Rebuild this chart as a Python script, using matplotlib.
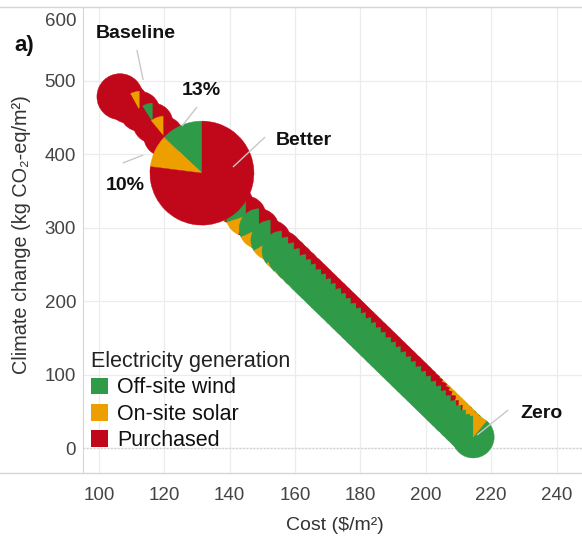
import matplotlib
matplotlib.use("Agg")
import matplotlib.pyplot as plt
from matplotlib.patches import Wedge, Patch
from matplotlib.lines import Line2D
from matplotlib.transforms import ScaledTranslation

plt.rcParams['font.family'] = ['Liberation Sans', 'DejaVu Sans']

# ---------------- data ----------------
categories = ["Off-site wind", "On-site solar", "Purchased"]
colors = ["#2F9A47", "#EE9F00", "#C1081A"]

# chain of scenarios (Baseline ... Zero), drawn in this order
pie_cost = [106.4, 108.9, 112.5, 116.5, 119.8,
            137.0, 141.0, 145.0, 149.0, 152.6, 156.0, 157.9, 159.7, 161.5, 163.4,
            164.9, 166.4, 168.0, 169.5, 171.0, 172.5, 174.1, 175.6, 177.1, 178.7,
            180.2, 181.7, 183.3, 184.8, 186.3, 187.8, 189.4, 190.9, 192.4, 194.0,
            195.5, 197.0, 198.6, 200.1, 201.6, 203.2, 204.7, 206.2, 207.7, 209.3,
            210.8, 212.3, 213.6, 214.5]
pie_climate = [478.0, 469.0, 458.0, 442.0, 424.0,
               350.2, 332.9, 315.6, 298.3, 282.7, 268.0, 259.8, 252.0, 244.2, 236.0,
               229.5, 223.1, 216.1, 209.6, 203.2, 196.7, 189.8, 183.3, 176.8, 169.9,
               163.4, 156.9, 150.0, 143.5, 137.0, 130.5, 123.6, 117.1, 110.6, 103.7,
               97.2, 90.7, 83.8, 77.3, 70.8, 63.9, 57.4, 50.9, 44.4, 37.5,
               31.0, 24.5, 18.9, 15.0]
wind = [0.00, 0.00, 0.00, 0.09, 0.00,
        0.25, 0.28, 0.30, 0.32, 0.34, 0.36, 0.38, 0.40, 0.42, 0.44,
        0.46, 0.48, 0.50, 0.52, 0.54, 0.56, 0.58, 0.60, 0.61, 0.63,
        0.64, 0.66, 0.67, 0.69, 0.70, 0.72, 0.73, 0.74, 0.75, 0.77,
        0.78, 0.79, 0.80, 0.81, 0.82, 0.83, 0.84, 0.85, 0.86, 0.87,
        0.88, 0.89, 0.89, 0.89]
solar = [0.00, 0.00, 0.08, 0.00, 0.11,
         0.14, 0.15, 0.14, 0.12, 0.10, 0.07, 0.06, 0.05, 0.05, 0.04,
         0.04, 0.04, 0.03, 0.03, 0.03, 0.03, 0.03, 0.03, 0.03, 0.03,
         0.03, 0.03, 0.04, 0.04, 0.04, 0.04, 0.04, 0.05, 0.05, 0.05,
         0.06, 0.06, 0.07, 0.07, 0.08, 0.08, 0.09, 0.10, 0.10, 0.11,
         0.11, 0.11, 0.11, 0.11]
purchased = [1.00, 1.00, 0.92, 0.91, 0.89,
             0.61, 0.57, 0.56, 0.56, 0.56, 0.57, 0.56, 0.55, 0.53, 0.52,
             0.50, 0.48, 0.47, 0.45, 0.43, 0.41, 0.39, 0.37, 0.36, 0.34,
             0.33, 0.31, 0.29, 0.27, 0.26, 0.24, 0.23, 0.21, 0.20, 0.18,
             0.16, 0.15, 0.13, 0.12, 0.10, 0.09, 0.07, 0.05, 0.04, 0.02,
             0.01, 0.00, 0.00, 0.00]

# highlighted "Better" scenario
better_cost = 131.5
better_climate = 374.0
better_shares = [0.13, 0.10, 0.77]

xticks = [100, 120, 140, 160, 180, 200, 220, 240]
yticks = [0, 100, 200, 300, 400, 500, 600]

# ---------------- figure ----------------
W, H, DPI = 582, 540, 100
fig = plt.figure(figsize=(W / DPI, H / DPI), dpi=DPI)
ax = fig.add_axes([83 / W, 67 / H, 499 / W, 466 / H])
ax.set_xlim(95.1, 247.8)
ax.set_ylim(-34, 600)
ax.set_autoscale_on(False)

R_CHAIN = 20 / DPI
R_BASE = 23 / DPI
R_ZERO = 21 / DPI
R_BETTER = 52 / DPI


def draw_pie(x, y, shares, radius, z):
    tr = fig.dpi_scale_trans + ScaledTranslation(x, y, ax.transData)
    start = 90.0
    for share, col in zip(shares, colors):
        if share <= 0:
            continue
        end = start + 360.0 * share
        w = Wedge((0, 0), radius, start, end, facecolor=col, edgecolor=col,
                  linewidth=0.3, transform=tr, zorder=z)
        ax.add_patch(w)
        start = end


n = len(pie_cost)
for i in range(n):
    if i == 0:
        r = R_BASE
    elif i == n - 1:
        r = R_ZERO
    else:
        r = R_CHAIN
    draw_pie(pie_cost[i], pie_climate[i], [wind[i], solar[i], purchased[i]], r, 2 + i * 0.01)

draw_pie(better_cost, better_climate, better_shares, R_BETTER, 4)

ax.set_xlim(95.1, 247.8)
ax.set_ylim(-34, 600)

# grid & spines
ax.set_axisbelow(True)
ax.grid(True, color="#ececec", linewidth=0.9)
ax.axhline(0, color="#cfcfcf", linewidth=1.0, linestyle=(0, (1, 1.5)), zorder=1)
for s in ["top", "right", "bottom"]:
    ax.spines[s].set_visible(False)
ax.spines["left"].set_color("#d6d6d6")
fig.add_artist(Line2D([0, 1], [533 / H, 533 / H], transform=fig.transFigure,
                      color="#d6d6d6", linewidth=1.0))
fig.add_artist(Line2D([0, 1], [67 / H, 67 / H], transform=fig.transFigure,
                      color="#d6d6d6", linewidth=1.0))

ax.set_xticks(xticks, labels=[str(v) for v in xticks])
ax.set_yticks(yticks, labels=[str(v) for v in yticks])
ax.tick_params(axis="both", length=0, labelsize=13.5, colors="#444444")
ax.tick_params(axis="x", pad=10)
ax.tick_params(axis="y", pad=5)
for lab in ax.get_yticklabels():
    if lab.get_text() == "600":
        lab.set_transform(lab.get_transform() +
                          ScaledTranslation(0, -13 / DPI, fig.dpi_scale_trans))

ax.set_xlabel("Cost ($/m²)", fontsize=14, color="#333333")
ax.xaxis.set_label_coords(0.505, -0.094)
ax.set_ylabel("Climate change (kg CO₂-eq/m²)", fontsize=14.3, color="#333333")
ax.yaxis.set_label_coords(-0.104, 0.511)

# annotations
lead_col = "#c8c8c8"
annots = [
    ("Baseline", (111.3, 564.6), (111.6, 541.5), (113.5, 500.7)),
    ("13%", (131.2, 487.0), (130.0, 464.0), (125.4, 438.0)),
    ("10%", (108.0, 357.8), (107.3, 387.8), (113.5, 398.6)),
    ("Better", (162.7, 419.0), (150.8, 423.0), (141.0, 382.3)),
    ("Zero", (235.3, 47.6), (225.2, 51.7), (215.7, 17.7)),
]
for txt, pos, p0, p1 in annots:
    ax.plot([p0[0], p1[0]], [p0[1], p1[1]], color=lead_col, linewidth=1.0,
            zorder=6, solid_capstyle="butt")
    ax.text(pos[0], pos[1], txt, fontsize=14, fontweight="bold", color="#111111",
            ha="center", va="center", zorder=7)

fig.text(24 / W, 1 - 45 / H, "a)", fontsize=16, fontweight="bold", color="#111111",
         ha="center", va="center")

# legend
handles = [Patch(facecolor=c, edgecolor="none") for c in colors]
leg = fig.legend(handles, categories, title="Electricity generation",
                 loc="upper left", bbox_to_anchor=(91 / W, 1 - 351 / H),
                 frameon=False, fontsize=15.5, title_fontsize=15.5,
                 handlelength=0.8, handleheight=0.8, handletextpad=0.4,
                 labelspacing=0.25, borderpad=0, borderaxespad=0,
                 alignment="left")
for t in leg.get_texts():
    t.set_color("#111111")
leg.get_title().set_color("#222222")

fig.savefig("out.png", dpi=DPI)
